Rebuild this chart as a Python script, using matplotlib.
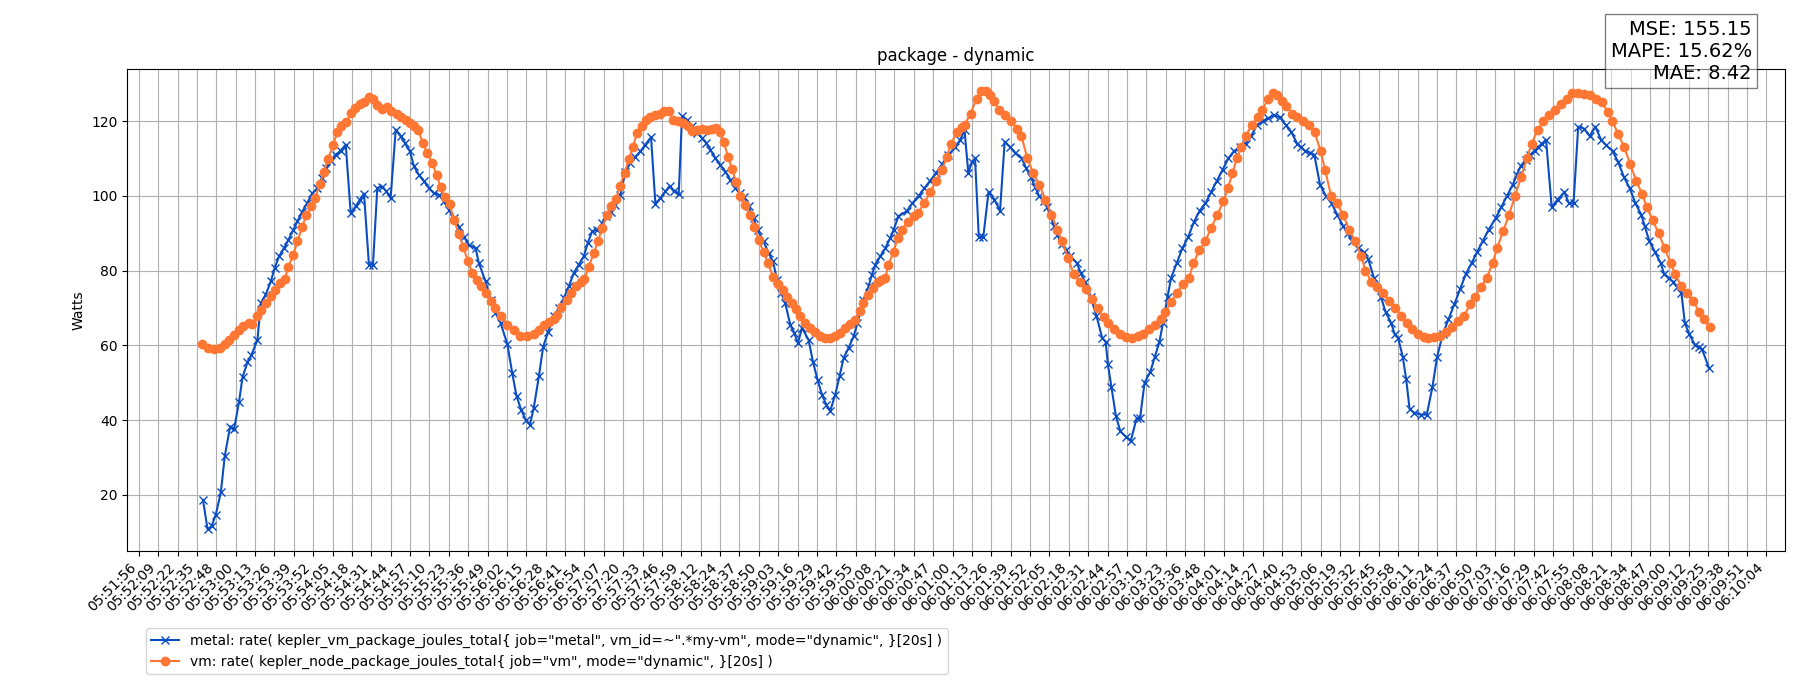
import numpy as np
import matplotlib
matplotlib.use("Agg")
import matplotlib.pyplot as plt

# temps en secondes depuis 05:51:56, puissance en watts
START = "05:51:56"

metal_pts = [
    (42.9, 18.6), (45.9, 10.9), (48.6, 11.6), (51.4, 14.7), (54.8, 20.7), (57.4, 30.3),
    (61.0, 38.3), (63.7, 37.7), (67.0, 45.0), (69.3, 51.5), (72.6, 55.5), (75.3, 57.5),
    (79.3, 61.5), (81.5, 71.3), (84.8, 73.6), (88.2, 77.1), (90.8, 80.7), (93.7, 83.8),
    (97.0, 86.0), (100.0, 88.3), (103.3, 90.9), (106.0, 93.2), (109.3, 95.8), (112.7, 98.2),
    (116.0, 100.7), (119.4, 102.1), (122.2, 104.8), (125.4, 107.4), (128.2, 109.2),
    (131.6, 111.0), (134.9, 112.1), (138.3, 113.7), (141.6, 95.4), (144.9, 97.2),
    (147.8, 99.0), (150.5, 100.6), (153.8, 81.6), (156.5, 81.6), (159.4, 102.1),
    (162.8, 102.5), (165.4, 101.2), (168.3, 99.4), (171.7, 117.7), (175.0, 115.9),
    (177.9, 114.1), (181.2, 111.9), (183.9, 107.9), (187.2, 105.6), (190.6, 103.9),
    (193.9, 102.1), (197.2, 100.7), (200.6, 100.3), (203.9, 98.5), (207.3, 96.3),
    (210.6, 94.1), (213.9, 91.8), (217.3, 89.1), (220.6, 86.9), (225.1, 86.0),
    (227.3, 82.0), (231.8, 77.1), (235.1, 72.2), (238.4, 68.7), (241.8, 66.0),
    (246.3, 60.4), (249.6, 52.6), (252.5, 46.4), (255.6, 42.8), (258.5, 40.1),
    (261.4, 38.8), (264.0, 43.3), (267.4, 51.7), (270.3, 59.7), (273.7, 63.7),
    (277.4, 67.8), (280.8, 70.0), (284.1, 72.7), (287.4, 75.8), (290.8, 79.4),
    (294.1, 81.6), (297.4, 83.8), (300.1, 87.4), (303.0, 90.5), (306.4, 90.9),
    (309.7, 92.7), (312.6, 94.5), (315.3, 95.8), (318.6, 97.6), (321.9, 100.3),
    (325.3, 106.5), (328.6, 108.8), (332.0, 110.5), (335.3, 111.9), (338.6, 113.7),
    (342.4, 115.7), (345.3, 97.9), (348.7, 99.4), (352.0, 101.2), (354.9, 102.7),
    (357.5, 101.2), (360.9, 100.5), (363.1, 121.4), (366.5, 120.3), (369.8, 118.7),
    (373.2, 116.8), (376.5, 115.5), (379.4, 114.1), (382.1, 112.3), (385.4, 110.1),
    (388.7, 108.3), (392.1, 106.5), (395.4, 104.3), (398.7, 102.1), (401.6, 100.7),
    (404.7, 99.7), (407.6, 97.2), (410.9, 94.1), (413.6, 90.9), (417.6, 87.8),
    (421.0, 84.7), (423.9, 82.5), (426.6, 77.6), (429.5, 74.0), (432.1, 71.3),
    (435.5, 65.5), (438.2, 63.3), (440.6, 60.6), (443.3, 64.7), (447.7, 61.5),
    (450.6, 55.7), (453.7, 50.8), (456.7, 46.8), (459.6, 44.1), (462.2, 42.5),
    (465.5, 46.8), (468.4, 51.7), (471.1, 56.6), (474.4, 59.3), (477.8, 62.4),
    (480.4, 66.0), (484.4, 72.2), (487.8, 75.8), (490.0, 78.9), (492.3, 81.6),
    (495.6, 83.8), (499.0, 86.0), (502.3, 88.7), (504.5, 90.9), (507.8, 94.5),
    (513.6, 96), (517, 98), (521.3, 100), (525, 102), (528.9, 104), (532.8, 106),
    (537, 108.5), (541.2, 111), (545.8, 113), (549, 115), (552, 117.5), (554.5, 106),
    (556.8, 109), (559, 110), (561.5, 89), (564.5, 89), (568, 101), (572, 99),
    (575.7, 96), (578.8, 114.5), (582.6, 113), (586, 111.5), (590.3, 110), (593, 107.5),
    (596.4, 105), (599, 102.5), (601.8, 100), (605, 98.5), (607.2, 97), (611.8, 92),
    (614, 89.5), (617.1, 87), (620, 85.5), (622.5, 84), (627.1, 82), (629.5, 79.5),
    (632.5, 77), (636.3, 73), (640.1, 68), (644, 62), (646.3, 61), (647.8, 55),
    (650.1, 49), (653.2, 41), (656.2, 37), (660.1, 35.5), (663.1, 34.5), (667, 40.5),
    (669.3, 40.5), (672.3, 50), (676.2, 53), (679.2, 57), (682.3, 61), (684.6, 66),
    (687.7, 73), (690, 78), (693.8, 82), (697.6, 86), (701.5, 89), (705.3, 93),
    (709.1, 96), (713, 98), (716.8, 101), (720.6, 104), (724.5, 107), (728.3, 110),
    (732.1, 112), (736, 113), (739.8, 114), (743.6, 116), (747.5, 119), (751.3, 120),
    (755, 120.8), (759, 121.5), (762.8, 121), (766.6, 119), (770.5, 117), (774.3, 114),
    (777, 113), (779.7, 112), (783, 111.5), (785.8, 111), (789.6, 103), (793.5, 100),
    (797.3, 98), (801.1, 95), (805, 92), (808, 90), (811.1, 88), (815, 86),
    (818.8, 85), (821.9, 83), (825.7, 78), (830.3, 73), (833.4, 69), (837.2, 66),
    (839.5, 63), (841.8, 62), (844.9, 57), (847.2, 51), (849.5, 43), (852.5, 42),
    (857.1, 41.5), (861, 41.5), (864.8, 49), (867.9, 57), (871.7, 63), (875.5, 67),
    (879.4, 71), (883.2, 75), (887, 79), (890.9, 82), (894.7, 85), (898.5, 88),
    (902.4, 91), (907, 94), (910.8, 97), (914.6, 100), (918.5, 103), (921, 105.5),
    (923.8, 108), (927, 109.5), (930, 111), (933, 112), (935.3, 113), (938, 114),
    (940.7, 115), (944.5, 97), (948.4, 99), (953, 101), (956, 98), (959.1, 98),
    (962.2, 118.5), (966, 118), (969.9, 116), (973.7, 118.5), (977.5, 115), (981, 113.5),
    (985.2, 112), (989, 109), (992.8, 105), (996.7, 102), (1000.5, 98), (1004.3, 95),
    (1006.6, 92), (1009.7, 88), (1013.5, 85), (1017.4, 82), (1019.7, 79), (1023, 78),
    (1025.8, 77), (1028.5, 75.5), (1031.2, 74), (1033.5, 66), (1036.5, 63),
    (1040.4, 60), (1043, 59.5), (1045, 59), (1049.6, 54),
]

vm_pts = [
    (42.5, 60.4), (46.3, 59.3), (50.3, 59.0), (54.3, 59.3), (57.4, 60.4), (60.3, 61.5),
    (63.7, 62.8), (67.0, 64.0), (69.9, 65.1), (73.3, 66.0), (75.9, 65.8), (79.3, 67.8),
    (81.5, 69.5), (84.8, 71.3), (88.2, 73.1), (90.8, 74.9), (94.4, 76.7), (97.5, 77.8),
    (100.0, 81.1), (103.3, 84.3), (106.0, 87.8), (109.3, 91.8), (112.0, 94.9),
    (115.3, 97.2), (117.8, 99.4), (121.1, 103.2), (123.8, 106.5), (126.4, 109.9),
    (129.8, 113.5), (132.7, 117.2), (135.4, 118.6), (138.7, 119.7), (141.6, 122.1),
    (144.5, 123.5), (147.6, 124.6), (150.5, 125.2), (153.8, 126.4), (156.5, 125.9),
    (159.4, 124.2), (162.8, 123.3), (166.1, 123.7), (168.8, 122.8), (172.3, 121.9),
    (175.5, 121.1), (178.3, 120.3), (181.2, 119.6), (183.9, 118.7), (186.8, 117.5),
    (189.9, 114.1), (192.8, 111.4), (196.2, 108.8), (199.0, 105.6), (201.7, 102.4),
    (204.6, 99.8), (207.7, 97.8), (210.6, 93.6), (213.9, 89.9), (216.9, 86.3),
    (219.9, 82.6), (222.9, 79.4), (225.8, 77.6), (228.9, 75.8), (232.2, 74.0),
    (235.1, 71.8), (238.4, 70.0), (241.8, 67.8), (246.3, 65.5), (250.7, 64.2),
    (255.1, 62.4), (259.6, 62.4), (264.0, 63.1), (267.4, 64.2), (270.7, 65.5),
    (274.0, 66.4), (277.4, 67.0), (279.6, 68.2), (282.5, 70.4), (285.9, 72.2),
    (289.0, 74.0), (292.5, 75.8), (295.7, 76.9), (297.9, 77.8), (300.8, 81.1),
    (304.1, 84.7), (307.0, 88.0), (309.7, 91.4), (313.0, 94.9), (315.9, 97.2),
    (319.1, 99.1), (321.5, 102.7), (324.8, 106.1), (327.5, 109.8), (330.4, 113.2),
    (333.1, 116.9), (336.4, 118.6), (339.1, 120.3), (342.0, 121.1), (345.3, 121.7),
    (348.7, 121.9), (351.3, 122.8), (354.7, 122.6), (357.1, 120.3), (360.5, 119.9),
    (363.8, 119.5), (366.9, 118.7), (369.8, 117.4), (373.2, 117.7), (376.5, 117.9),
    (379.8, 117.7), (383.2, 117.9), (386.1, 118.1), (388.7, 117.2), (391.0, 114.3),
    (393.9, 110.5), (396.5, 107.2), (399.4, 103.6), (402.1, 100.0), (405.4, 97.6),
    (408.3, 94.9), (411.4, 91.8), (414.3, 88.3), (417.6, 84.9), (420.6, 82.0),
    (423.9, 78.4), (427.0, 76.5), (430.3, 74.7), (433.3, 72.9), (436.6, 71.3),
    (439.5, 69.7), (442.2, 67.8), (445.5, 66.0), (448.8, 64.7), (452.2, 63.5),
    (455.5, 62.4), (458.8, 62.0), (462.2, 62.0), (465.5, 62.4), (468.9, 63.3),
    (472.2, 64.7), (475.5, 65.8), (478.9, 66.9), (481.8, 69.1), (484.4, 71.3),
    (487.4, 73.6), (490.7, 75.3), (493.8, 76.9), (496.4, 77.5), (499.0, 78.0),
    (501.1, 81.6), (504.5, 84.9), (507.2, 88.7), (510, 91), (514, 93), (518, 94.5),
    (521, 95.5), (525, 98), (529, 101), (533, 104), (537, 107), (540, 110.5), (543, 114),
    (547, 117), (550, 118.5), (552, 119), (556, 122), (560, 126), (563, 128), (566, 128),
    (569, 127), (572, 125.5), (575, 123), (579, 121.5), (583, 120), (587, 118), (590, 116),
    (594, 110), (598, 106), (602, 103), (606, 99), (610, 95), (614, 91), (617, 88),
    (621, 83.5), (625, 79), (629, 77), (633, 75), (637, 72.5), (641, 70), (645, 67.5),
    (648, 66), (652, 64.5), (656, 63), (660, 62.2), (664, 62), (668, 62.5), (671, 63),
    (675, 64.5), (679, 65.5), (683, 67), (686, 69), (690, 71.5), (694, 74), (698, 76.5),
    (702, 78), (705, 82), (709, 85.5), (713, 88), (717, 91.5), (721, 95), (725, 98.5),
    (728, 102), (731, 106), (734, 110), (737, 113), (740, 116), (744, 119), (748, 121),
    (751, 123), (755, 126), (758, 127.5), (761, 127), (764, 125.5), (767, 124),
    (771, 122), (774, 121), (778, 120), (782, 119), (786, 117), (790, 112), (793, 107),
    (797, 100), (801, 98), (805, 95), (809, 91), (813, 88), (817, 84), (820, 80),
    (824, 77), (828, 75.5), (832, 74), (836, 72), (840, 70), (844, 68), (848, 66),
    (851, 64.5), (855, 63), (859, 62.2), (862, 62), (866, 62.2), (870, 62.5),
    (874, 63.5), (878, 65), (882, 66.5), (886, 68), (890, 71), (893, 73), (897, 75.5),
    (901, 78), (905, 82), (908, 86), (912, 90.5), (916, 95), (920, 100), (924, 105),
    (928, 110), (931, 114), (935, 117.5), (939, 120), (943, 121.5), (947, 123),
    (951, 124.5), (955, 126), (958, 127.5), (962, 127.5), (966, 127.3), (970, 127),
    (974, 126), (978, 125), (982, 122.5), (985, 120), (989, 116.5), (993, 113),
    (997, 108.5), (1001, 104), (1005, 100.5), (1008, 97), (1012, 93.5), (1016, 90),
    (1020, 86), (1024, 82), (1027, 79), (1031, 76), (1035, 74), (1039, 72), (1043, 69),
    (1046, 67), (1050, 65),
]

tick_labels = [
    "05:51:56", "05:52:09", "05:52:22", "05:52:35", "05:52:48", "05:53:00", "05:53:13",
    "05:53:26", "05:53:39", "05:53:52", "05:54:05", "05:54:18", "05:54:31", "05:54:44",
    "05:54:57", "05:55:10", "05:55:23", "05:55:36", "05:55:49", "05:56:02", "05:56:15",
    "05:56:28", "05:56:41", "05:56:54", "05:57:07", "05:57:20", "05:57:33", "05:57:46",
    "05:57:59", "05:58:12", "05:58:24", "05:58:37", "05:58:50", "05:59:03", "05:59:16",
    "05:59:29", "05:59:42", "05:59:55", "06:00:08", "06:00:21", "06:00:34", "06:00:47",
    "06:01:00", "06:01:13", "06:01:26", "06:01:39", "06:01:52", "06:02:05", "06:02:18",
    "06:02:31", "06:02:44", "06:02:57", "06:03:10", "06:03:23", "06:03:36", "06:03:48",
    "06:04:01", "06:04:14", "06:04:27", "06:04:40", "06:04:53", "06:05:06", "06:05:19",
    "06:05:32", "06:05:45", "06:05:58", "06:06:11", "06:06:24", "06:06:37", "06:06:50",
    "06:07:03", "06:07:16", "06:07:29", "06:07:42", "06:07:55", "06:08:08", "06:08:21",
    "06:08:34", "06:08:47", "06:09:00", "06:09:12", "06:09:25", "06:09:38", "06:09:51",
    "06:10:04",
]

metal_label = 'metal: rate( kepler_vm_package_joules_total{ job="metal", vm_id=~".*my-vm", mode="dynamic", }[20s] )'
vm_label = 'vm: rate( kepler_node_package_joules_total{ job="vm", mode="dynamic", }[20s] )'
stats_text = "MSE: 155.15\nMAPE: 15.62%\nMAE: 8.42"


def en_secondes(hms):
    h, m, s = (int(v) for v in hms.split(":"))
    return h * 3600 + m * 60 + s


metal_t, metal_w = np.array(metal_pts).T
vm_t, vm_w = np.array(vm_pts).T

# graduations régulières entre la première et la dernière étiquette
t0 = en_secondes(tick_labels[0]) - en_secondes(START)
t1 = en_secondes(tick_labels[-1]) - en_secondes(START)
tick_pos = np.linspace(t0, t1, len(tick_labels))

fig = plt.figure(figsize=(18, 7), dpi=100)
ax = fig.add_axes([0.0706, 0.213, 0.921, 0.688])

ax.plot(metal_t, metal_w, marker="x", color="#0a4cc2", label=metal_label)
ax.plot(vm_t, vm_w, marker="o", color="#ff7733", label=vm_label)

ax.set_xticks(tick_pos)
ax.set_xticklabels(tick_labels, rotation=45, ha="right")
ax.set_ylabel("Watts")
ax.set_title("package - dynamic")
ax.grid(True)

fig.legend(loc="upper left", bbox_to_anchor=(0.0772, 0.113))
fig.text(0.9732, 0.972, stats_text, ha="right", va="top", fontsize=14,
         bbox=dict(facecolor="white", alpha=0.5))

fig.savefig("out.png")
